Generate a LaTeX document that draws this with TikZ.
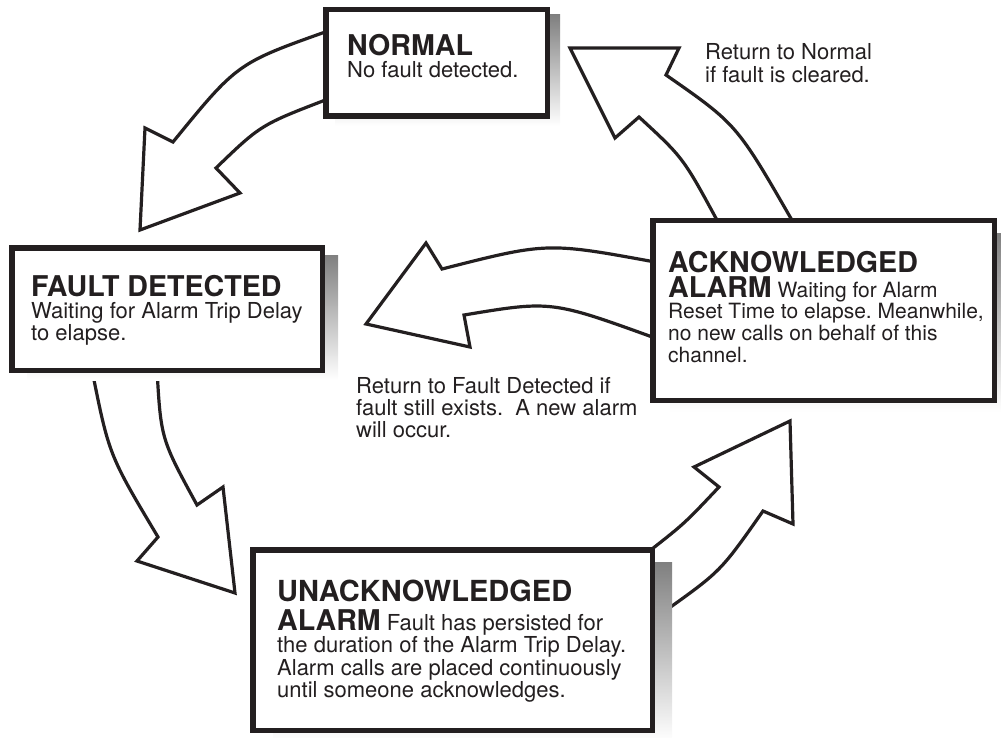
\documentclass[tikz,border=0pt]{standalone}
\usepackage{fontspec}
\setmainfont{TeX Gyre Heros}
\usetikzlibrary{calc}
\definecolor{ink}{HTML}{231F20}
\definecolor{shade}{HTML}{A3A4A8}
\pgfdeclarelayer{arrowlayer}
\pgfdeclarelayer{shadowlayer}
\pgfsetlayers{arrowlayer,shadowlayer,main}
\newcommand{\headfont}{\fontsize{28.6}{28.6}\selectfont\bfseries}
\newcommand{\bigheadfont}{\fontsize{29}{29}\selectfont\bfseries}
\newcommand{\bodyfont}{\fontsize{22}{22}\selectfont\mdseries}
\newcommand{\ackbodyfont}{\fontsize{21}{21}\selectfont\mdseries}
\frenchspacing
\begin{document}
\begin{tikzpicture}[x=1pt,y=-1pt,
  statebox/.style={draw=ink, line width=5.5pt, fill=white, rectangle, inner sep=0pt},
  blockarrow/.style={draw=ink, line width=3.2pt, fill=white, line join=miter, miter limit=10},
  lbl/.style={anchor=base west, inner sep=0pt, text=ink, font=\bodyfont},
  acklbl/.style={lbl, font=\ackbodyfont}]
\useasboundingbox (0,0) rectangle (1001,738);

% state boxes
\node[statebox, minimum width=221.5pt, minimum height=106.5pt] (normal) at (436.5,63) {};
\node[statebox, minimum width=310.5pt, minimum height=122.5pt] (fault) at (167,309) {};
\node[statebox, minimum width=341.5pt, minimum height=179.5pt] (ack) at (823.5,310.5) {};
\node[statebox, minimum width=399.5pt, minimum height=180.5pt] (unack) at (452.5,640) {};

% shadows
\begin{pgfonlayer}{shadowlayer}
\fill[shade] ($(normal.north west)+(12,8)$) rectangle ($(normal.south east)+(10,7)$);
\fill[shade] ($(fault.north west)+(18,10)$) rectangle ($(fault.south east)+(13,7)$);
\fill[shade] ($(ack.north west)+(20,15)$) rectangle ($(ack.south east)+(12,9)$);
\fill[shade] ($(unack.north west)+(23,15)$) rectangle ($(unack.south east)+(17,8)$);
\end{pgfonlayer}

% block arrows
\begin{pgfonlayer}{arrowlayer}
% NORMAL -> FAULT DETECTED
\draw[blockarrow] (328,31) .. controls (237.3,63.2) .. (173,142) -- (145,128) -- (140,230)
  -- (240,193) -- (216,168) .. controls (260.8,124.8) .. (328,99) -- cycle;
% FAULT DETECTED -> UNACKNOWLEDGED
\draw[blockarrow] (92,370) .. controls (109,455) .. (158,537) -- (137,561) -- (235,593)
  -- (223,487) -- (197,505) .. controls (161,439) .. (157,370) -- cycle;
% UNACKNOWLEDGED -> ACKNOWLEDGED
\draw[blockarrow] (652,549) .. controls (684.8,523.2) .. (719,487) -- (694,467) -- (790,421)
  -- (793,524) -- (763,511) .. controls (720.8,571.2) .. (665,611) -- (645,580) -- cycle;
% ACKNOWLEDGED -> NORMAL
\draw[blockarrow] (718,222) .. controls (683.2,157.7) .. (639,117) -- (615,138) -- (570,48)
  -- (679,48) -- (666,75) .. controls (736.8,124.3) .. (793,222) -- cycle;
% ACKNOWLEDGED -> FAULT DETECTED
\draw[blockarrow] (655,262) .. controls (547,242.2) .. (442,269) -- (426,243) -- (366,324)
  -- (470,347) -- (464,315) .. controls (551.3,300.5) .. (655,338) -- cycle;
\end{pgfonlayer}

% texts: NORMAL
\node[lbl] (normal1) at (347,56) {\headfont NORMAL};
\node[lbl] (normal2) at (347,78) {No fault detected.};
% FAULT DETECTED
\node[lbl] (fault1) at (31,296) {\headfont FAULT DETECTED};
\node[lbl] (fault2) at (31,318) {Waiting for Alarm Trip Delay};
\node[lbl] (fault3) at (31,340) {to elapse.};
% ACKNOWLEDGED
\node[lbl] (ack1) at (668,272) {\headfont ACKNOWLEDGED};
\node[acklbl] (ack2) at (668,297) {{\headfont ALARM} Waiting for Alarm};
\node[acklbl] (ack3) at (668,318.5) {Reset Time to elapse. Meanwhile,};
\node[acklbl] (ack4) at (668,340.5) {no new calls on behalf of this};
\node[acklbl] (ack5) at (668,362.5) {channel.};
% UNACKNOWLEDGED
\node[lbl] (unack1) at (277,601) {\bigheadfont UNACKNOWLEDGED};
\node[lbl] (unack2) at (277,630) {{\headfont ALARM} Fault has persisted for};
\node[lbl] (unack3) at (277,652) {the duration of the Alarm Trip Delay.};
\node[lbl] (unack4) at (277,675) {Alarm calls are placed continuously};
\node[lbl] (unack5) at (277,697) {until someone acknowledges.};
% transition notes
\node[lbl] (retn1) at (705,60) {Return to Normal};
\node[lbl] (retn2) at (705,83) {if fault is cleared.};
\node[lbl] (retf1) at (356,393) {Return to Fault Detected if};
\node[lbl] (retf2) at (356,415) {fault still exists.\ \ A new alarm};
\node[lbl] (retf3) at (356,437) {will occur.};
\end{tikzpicture}
\end{document}
